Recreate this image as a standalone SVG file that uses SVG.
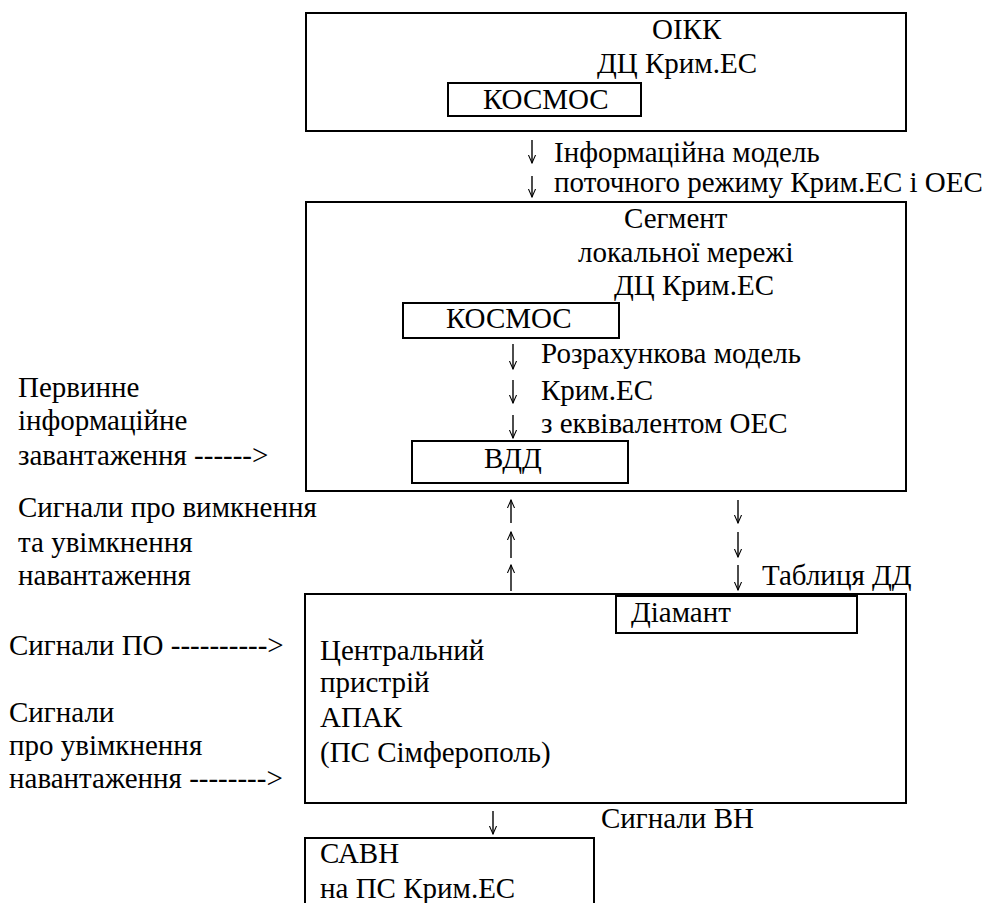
<svg xmlns="http://www.w3.org/2000/svg" width="1003" height="903" viewBox="0 0 1003 903">
<defs>
<marker id="ah" viewBox="0 0 10 10" refX="9" refY="5" markerWidth="9" markerHeight="9" markerUnits="userSpaceOnUse" orient="auto">
<path d="M0,1 L9,5 L0,9" fill="none" stroke="#000" stroke-width="1.2"/>
</marker>
</defs>
<rect width="1003" height="903" fill="#fff"/>
<g font-family="Liberation Serif, Noto Serif, DejaVu Serif, serif" font-size="29" fill="#000">
<g id="oikk">
<rect x="306" y="13" width="600" height="118" fill="none" stroke="#000" stroke-width="2"/>
<text x="652" y="39">ОІКК</text>
<text x="597" y="73">ДЦ Крим.ЕС</text>
<g id="kosmos1">
<rect x="448" y="83" width="193" height="33" fill="none" stroke="#000" stroke-width="2"/>
<text x="483" y="109">КОСМОС</text>
</g>
</g>
<g id="segment">
<rect x="306" y="202" width="600" height="289" fill="none" stroke="#000" stroke-width="2"/>
<text x="624" y="228">Сегмент</text>
<text x="578" y="262">локальної мережі</text>
<text x="614" y="295">ДЦ Крим.ЕС</text>
<g id="kosmos2">
<rect x="403" y="303" width="216" height="35" fill="none" stroke="#000" stroke-width="2"/>
<text x="446" y="328">КОСМОС</text>
</g>
<g id="vdd">
<rect x="412" y="441" width="216" height="42" fill="none" stroke="#000" stroke-width="2"/>
<text x="484" y="468">ВДД</text>
</g>
</g>
<g id="apak">
<rect x="305" y="594" width="601" height="209" fill="none" stroke="#000" stroke-width="2"/>
<text x="320" y="660">Центральний</text>
<text x="320" y="692">пристрій</text>
<text x="320" y="727">АПАК</text>
<text x="320" y="762">(ПС Сімферополь)</text>
<g id="diamant">
<rect x="616" y="596" width="241" height="37" fill="none" stroke="#000" stroke-width="2"/>
<text x="631" y="622">Діамант</text>
</g>
</g>
<g id="savn">
<rect x="305" y="838" width="289" height="80" fill="none" stroke="#000" stroke-width="2"/>
<text x="320" y="863">САВН</text>
<text x="320" y="898">на ПС Крим.ЕС</text>
</g>
<g id="connectors" fill="none" stroke="#000" stroke-width="1.4">
<path marker-end="url(#ah)" d="M532,140 V163"/>
<path marker-end="url(#ah)" d="M532,176 V197"/>
<path marker-end="url(#ah)" d="M513,344 V369"/>
<path marker-end="url(#ah)" d="M513,380 V403"/>
<path marker-end="url(#ah)" d="M513,415 V438"/>
<path marker-end="url(#ah)" d="M511,523 V500"/>
<path marker-end="url(#ah)" d="M511,558 V532"/>
<path marker-end="url(#ah)" d="M511,591 V565"/>
<path marker-end="url(#ah)" d="M738,500 V523"/>
<path marker-end="url(#ah)" d="M738,532 V557"/>
<path marker-end="url(#ah)" d="M738,565 V590"/>
<path marker-end="url(#ah)" d="M493,811 V834"/>
</g>
<g id="labels">
<text x="554" y="162">Інформаційна модель</text>
<text x="554" y="192">поточного режиму Крим.ЕС і ОЕС</text>
<text x="541" y="363">Розрахункова модель</text>
<text x="541" y="400">Крим.ЕС</text>
<text x="541" y="433">з еквівалентом ОЕС</text>
<text x="18" y="397">Первинне</text>
<text x="18" y="430">інформаційне</text>
<text x="18" y="465">завантаження ------&gt;</text>
<text x="18" y="517">Сигнали про вимкнення</text>
<text x="18" y="552">та увімкнення</text>
<text x="18" y="585">навантаження</text>
<text x="762" y="585">Таблиця ДД</text>
<text x="9" y="655">Сигнали ПО ----------&gt;</text>
<text x="9" y="722">Сигнали</text>
<text x="9" y="755">про увімкнення</text>
<text x="9" y="788">навантаження --------&gt;</text>
<text x="601" y="828">Сигнали ВН</text>
</g>
</g>
</svg>
